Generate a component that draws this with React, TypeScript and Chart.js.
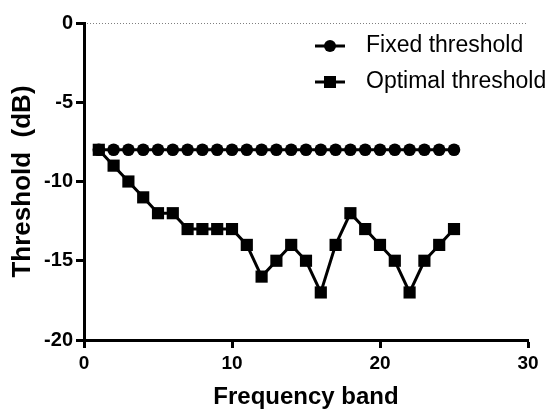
import React, { useEffect, useRef } from "react";
import { Chart, registerables } from "chart.js";

Chart.register(...registerables);

const bands: number[] = [1, 2, 3, 4, 5, 6, 7, 8, 9, 10, 11, 12, 13, 14, 15, 16, 17, 18, 19, 20, 21, 22, 23, 24, 25];
const fixedThreshold: number[] = [-8, -8, -8, -8, -8, -8, -8, -8, -8, -8, -8, -8, -8, -8, -8, -8, -8, -8, -8, -8, -8, -8, -8, -8, -8];
const optimalThreshold: number[] = [-8, -9, -10, -11, -12, -12, -13, -13, -13, -13, -14, -16, -15, -14, -15, -17, -14, -12, -13, -14, -15, -17, -15, -14, -13];
const zeroLineX: number[] = [0, 30];
const seriesNames: string[] = ["Fixed threshold", "Optimal threshold"];
const xTitle = "Frequency band";
const yTitle = "Threshold  (dB)";

const FONT = "'Liberation Sans', Arial, Helvetica, sans-serif";

const legendPlugin = {
  id: "customLegend",
  afterDraw(chart: any) {
    const ctx = chart.ctx as CanvasRenderingContext2D;
    const rows = [
      { name: seriesNames[0], style: "circle", y: 46 },
      { name: seriesNames[1], style: "rect", y: 82 },
    ];
    ctx.save();
    for (const r of rows) {
      ctx.strokeStyle = "#000";
      ctx.fillStyle = "#000";
      ctx.lineWidth = 3;
      ctx.beginPath();
      ctx.moveTo(315, r.y);
      ctx.lineTo(345, r.y);
      ctx.stroke();
      ctx.beginPath();
      if (r.style === "circle") {
        ctx.arc(330, r.y, 6, 0, Math.PI * 2);
        ctx.fill();
      } else {
        ctx.fillRect(324, r.y - 6, 12, 12);
      }
      ctx.font = `23px ${FONT}`;
      ctx.textBaseline = "middle";
      ctx.textAlign = "left";
      ctx.fillText(r.name, 366, r.y);
    }
    ctx.restore();
  },
};

export default function App() {
  const ref = useRef<HTMLCanvasElement | null>(null);
  useEffect(() => {
    if (!ref.current) return;
    const chart = new Chart(ref.current, {
      type: "line",
      data: {
        datasets: [
          {
            label: "zero",
            data: zeroLineX.map((x) => ({ x, y: 0 })),
            borderColor: "#000",
            borderWidth: 1,
            borderDash: [1, 2],
            pointRadius: 0,
            fill: false,
          },
          {
            label: seriesNames[0],
            data: bands.map((x, i) => ({ x, y: fixedThreshold[i] })),
            borderColor: "#000",
            backgroundColor: "#000",
            borderWidth: 3,
            pointStyle: "circle",
            pointRadius: 6.3,
            pointBorderWidth: 0,
            fill: false,
            clip: false as any,
          },
          {
            label: seriesNames[1],
            data: bands.map((x, i) => ({ x, y: optimalThreshold[i] })),
            borderColor: "#000",
            backgroundColor: "#000",
            borderWidth: 3,
            pointStyle: "rect",
            pointRadius: 8.6,
            pointBorderWidth: 0,
            fill: false,
            clip: false as any,
          },
        ],
      },
      options: {
        animation: false,
        responsive: false,
        devicePixelRatio: 1,
        layout: { padding: { top: 23, right: 21, left: 0, bottom: 0 } },
        plugins: { legend: { display: false }, tooltip: { enabled: false } },
        scales: {
          x: {
            type: "linear",
            min: 0,
            max: 30,
            ticks: { stepSize: 10, color: "#000", font: { family: FONT, size: 19, weight: "bold" }, padding: 4, maxRotation: 0 },
            grid: { drawOnChartArea: false, drawTicks: true, tickLength: 8, tickWidth: 3, tickColor: "#000" },
            border: { display: true, color: "#000", width: 3 },
            title: { display: true, text: xTitle, color: "#000", font: { family: FONT, size: 24, weight: "bold" }, padding: { top: 0, bottom: 0 } },
            afterFit: (s: any) => { s.height = 72; },
          },
          y: {
            type: "linear",
            min: -20,
            max: 0,
            ticks: { stepSize: 5, color: "#000", font: { family: FONT, size: 20, weight: "bold" }, padding: 3 },
            grid: { drawOnChartArea: false, drawTicks: true, tickLength: 8, tickWidth: 3, tickColor: "#000" },
            border: { display: true, color: "#000", width: 3 },
            title: { display: true, text: yTitle, color: "#000", font: { family: FONT, size: 26, weight: "bold" }, padding: { top: 7, bottom: 0 } },
            afterFit: (s: any) => { s.width = 84; },
          },
        },
      },
      plugins: [legendPlugin],
    } as any);
    return () => chart.destroy();
  }, []);
  return (
    <div style={{ position: "absolute", left: 0, top: 0, width: 549, height: 412, background: "#fff" }}>
      <canvas ref={ref} width={549} height={412} />
    </div>
  );
}
